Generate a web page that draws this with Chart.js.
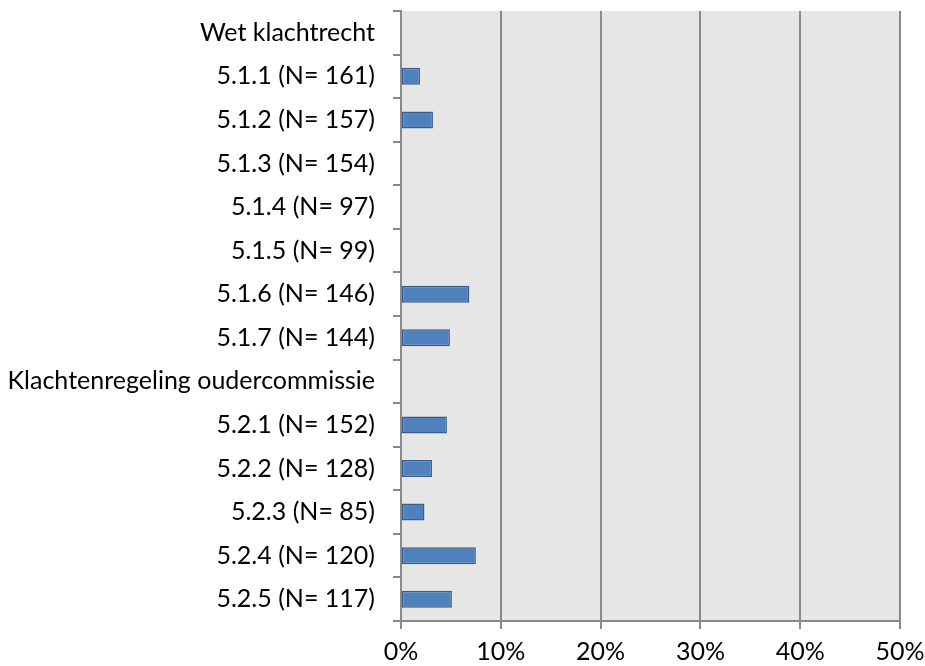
<!DOCTYPE html>
<html>
<head>
<meta charset="utf-8">
<script src="https://cdn.jsdelivr.net/npm/chart.js@4"></script>
<style>
    html, body { margin: 0; padding: 0; background: #fff; }
    #wrap { width: 925px; height: 666px; }
</style>
</head>
<body>
<div id="wrap"><canvas id="chart" width="925" height="666"></canvas></div>
<script>
const CATEGORIES = [
    "Wet klachtrecht",
    "5.1.1 (N= 161)",
    "5.1.2 (N= 157)",
    "5.1.3 (N= 154)",
    "5.1.4 (N= 97)",
    "5.1.5 (N= 99)",
    "5.1.6 (N= 146)",
    "5.1.7 (N= 144)",
    "Klachtenregeling oudercommissie",
    "5.2.1 (N= 152)",
    "5.2.2 (N= 128)",
    "5.2.3 (N= 85)",
    "5.2.4 (N= 120)",
    "5.2.5 (N= 117)",
];

// percentages; null where nothing is drawn
const VALUES = [null, 1.9, 3.2, null, null, null, 6.85, 4.9, null, 4.6, 3.1, 2.35, 7.5, 5.1];

const X_MAX = 50;
const X_STEP = 10;

const FONT = "Lato, 'Open Sans', sans-serif";

const plotBackground = {
    id: "plotBackground",
    beforeDraw(chart) {
        const { ctx, chartArea } = chart;
        ctx.save();
        ctx.fillStyle = "#e6e6e6";
        ctx.fillRect(chartArea.left, chartArea.top, chartArea.right - chartArea.left, chartArea.bottom - chartArea.top);
        ctx.restore();
    },
};

// keep the plot box where the reference has it, ignoring label overhang
function noPadding(scale) {
    scale.paddingTop = 0;
    scale.paddingBottom = 0;
    scale.paddingLeft = 0;
    scale.paddingRight = 0;
}

const ctx = document.getElementById("chart").getContext("2d");

new Chart(ctx, {
    type: "bar",
    data: {
        labels: CATEGORIES,
        datasets: [{
            data: VALUES,
            backgroundColor: "#4f81bd",
            borderColor: "#385d8a",
            borderWidth: 1.5,
            borderSkipped: false,
            categoryPercentage: 1,
            barPercentage: 0.39,
        }],
    },
    options: {
        indexAxis: "y",
        responsive: false,
        animation: false,
        layout: { padding: { top: 11, right: 25, left: 0, bottom: 0 } },
        plugins: {
            legend: { display: false },
            tooltip: { enabled: false },
        },
        scales: {
            x: {
                min: 0,
                max: X_MAX,
                ticks: {
                    stepSize: X_STEP,
                    color: "#000",
                    padding: 8,
                    font: { family: FONT, size: 25 },
                    callback: (v) => `${v}%`,
                },
                grid: {
                    color: "#898989",
                    lineWidth: 2,
                    tickLength: 8,
                },
                border: { color: "#898989", width: 2 },
                afterFit: (scale) => {
                    scale.height = 45;
                    noPadding(scale);
                },
            },
            y: {
                ticks: {
                    color: "#000",
                    padding: 18,
                    autoSkip: false,
                    font: { family: FONT, size: 25 },
                },
                grid: {
                    offset: true,
                    drawOnChartArea: false,
                    color: "#898989",
                    lineWidth: 2,
                    tickLength: 8,
                },
                border: { color: "#898989", width: 2 },
                afterFit: (scale) => {
                    scale.width = 401;
                    noPadding(scale);
                },
            },
        },
    },
    plugins: [plotBackground],
});
</script>
</body>
</html>
